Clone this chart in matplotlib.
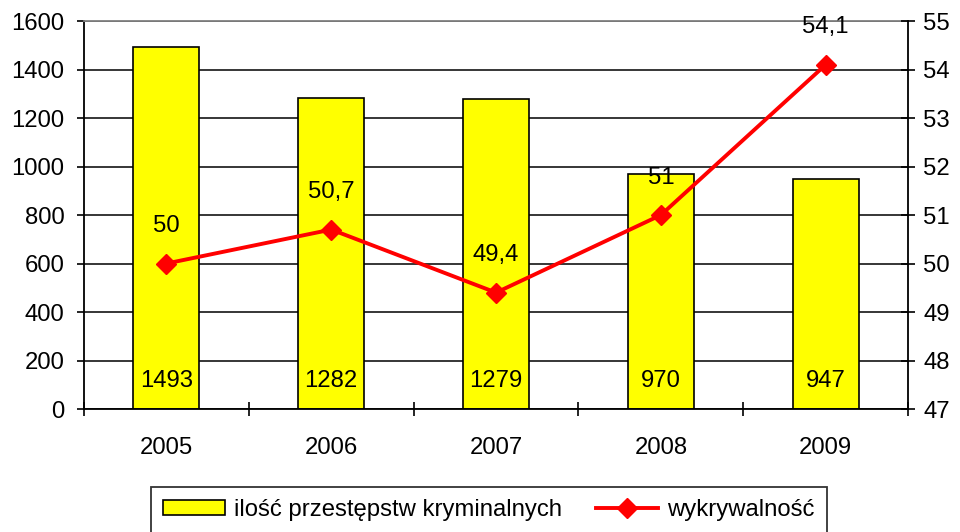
import numpy as np
import matplotlib.pyplot as plt

plt.rcParams['font.family'] = ['Liberation Sans', 'DejaVu Sans']

lata = ['2005', '2006', '2007', '2008', '2009']
przestepstwa = [1493, 1282, 1279, 970, 947]
wykrywalnosc = [50.0, 50.7, 49.4, 51.0, 54.1]
etykiety_wykr = ['50', '50,7', '49,4', '51', '54,1']

fs = 17.2
fig = plt.figure(figsize=(9.6, 5.32), dpi=100)
ax = fig.add_axes([0.0875, 0.2312, 0.8585, 0.7293])
x = np.arange(len(lata))

ax.bar(x, przestepstwa, width=0.4, color='#FFFF00', edgecolor='black',
       linewidth=1.2, label='ilość przestępstw kryminalnych', zorder=2)
for xi, v in zip(x, przestepstwa):
    ax.text(xi, 115, str(v), ha='center', va='center', fontsize=fs, zorder=3)

ax.set_xlim(-0.5, len(lata) - 0.5)
ax.set_ylim(0, 1600)
ax.set_yticks(np.arange(0, 1601, 200))
ax.yaxis.grid(True, color='black', linewidth=1.1)
ax.set_axisbelow(True)
ax.set_xticks(x)
ax.set_xticklabels(lata)
ax.set_xticks(np.arange(-0.5, len(lata), 1.0), minor=True)
ax.tick_params(axis='x', which='major', length=0, pad=20, labelsize=fs)
ax.tick_params(axis='x', which='minor', direction='inout', length=10, width=1.2)
ax.tick_params(axis='y', direction='out', length=5, width=1.2, labelsize=fs, pad=9)
for s in ['left', 'bottom']:
    ax.spines[s].set_linewidth(1.3)
ax.spines['top'].set_color('#808080')
ax.spines['top'].set_linewidth(1.3)
ax.spines['right'].set_visible(False)

ax2 = ax.twinx()
ax2.plot(x, wykrywalnosc, color='#FF0000', linewidth=2.8, marker='D',
         markersize=10.5, label='wykrywalność', zorder=4)
for xi, v, t in zip(x, wykrywalnosc, etykiety_wykr):
    ax2.annotate(t, (xi, v), xytext=(0, 27), textcoords='offset points',
                 ha='center', va='center', fontsize=fs)
ax2.set_ylim(47, 55)
ax2.set_yticks(np.arange(47, 56, 1))
ax2.tick_params(axis='y', direction='inout', length=10, width=1.2, labelsize=fs, pad=6)
ax2.spines['right'].set_linewidth(1.3)
ax2.spines['top'].set_visible(False)
ax2.spines['left'].set_visible(False)
ax2.spines['bottom'].set_visible(False)

h1, l1 = ax.get_legend_handles_labels()
h2, l2 = ax2.get_legend_handles_labels()
leg = fig.legend(h1 + h2, l1 + l2, loc='upper center', bbox_to_anchor=(0.509, 0.085),
                 ncol=2, fontsize=fs, frameon=True, fancybox=False, edgecolor='black',
                 handlelength=2.6, handleheight=0.6, columnspacing=1.4, borderpad=0.5,
                 handletextpad=0.4, borderaxespad=0)
leg.get_frame().set_linewidth(1.3)

fig.savefig('out.png', dpi=100)
